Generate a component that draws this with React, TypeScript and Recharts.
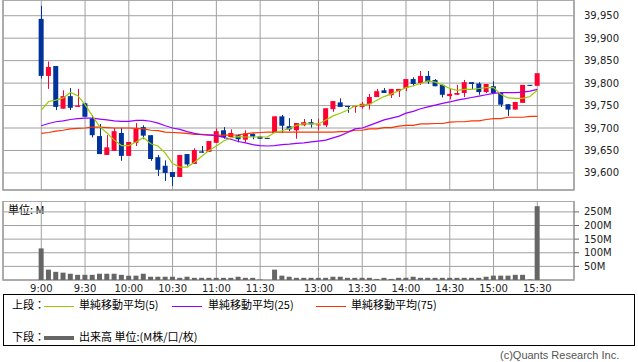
import { ComposedChart, Bar, Line, XAxis, YAxis, CartesianGrid, ReferenceArea } from "recharts";

// x positions are 5-minute slots, 9:00 = slot 0, 15:30 = slot 68
const tickSlots = [0, 6, 12, 18, 24, 30, 38, 44, 50, 56, 62, 68];
const tickLabels = ["9:00", "9:30", "10:00", "10:30", "11:00", "11:30", "13:00", "13:30", "14:00", "14:30", "15:00", "15:30"];
const priceTicks = [39600, 39650, 39700, 39750, 39800, 39850, 39900, 39950];
const volumeTicks = [50, 100, 150, 200, 250];

const opens = [
  39943, 39816, 39838, 39743, 39771, 39747, 39755, 39721, 39682, 39640, 39649, 39689, 39638, 39667, 39702, 39684, 39635,
  39616, 39602, 39591, 39642, 39620, 39648, 39647, 39667, 39695, 39680, 39684, 39674, 39687, 39681, 39678, 39689, 39726,
  39704, 39695, 39706, 39713, 39706, 39706, 39742, 39757, 39749, 39747, 39747, 39753, 39769, 39784, 39773, 39782, 39789,
  39809, 39800, 39816, 39807, 39796, 39771, 39774, 39778, 39802, 39799, 39780, 39793, 39778, 39753, 39741, 39756, 39796,
  39794,
];
const highs = [
  39972, 39848, 39838, 39784, 39789, 39787, 39756, 39729, 39709, 39684, 39700, 39700, 39669, 39711, 39706, 39684, 39640,
  39628, 39602, 39640, 39642, 39655, 39660, 39671, 39699, 39702, 39697, 39686, 39695, 39688, 39681, 39678, 39726, 39729,
  39722, 39711, 39720, 39720, 39720, 39744, 39760, 39766, 39749, 39749, 39758, 39776, 39787, 39789, 39787, 39787, 39809,
  39813, 39827, 39827, 39809, 39797, 39788, 39796, 39807, 39802, 39802, 39798, 39804, 39778, 39753, 39758, 39796, 39796,
  39822,
];
const lows = [
  39810, 39787, 39740, 39743, 39740, 39747, 39725, 39679, 39642, 39640, 39649, 39627, 39638, 39660, 39675, 39627, 39593,
  39582, 39571, 39591, 39616, 39620, 39645, 39647, 39667, 39676, 39680, 39668, 39668, 39675, 39676, 39676, 39689, 39689,
  39693, 39676, 39704, 39701, 39695, 39702, 39736, 39747, 39734, 39734, 39743, 39741, 39769, 39778, 39767, 39769, 39782,
  39793, 39796, 39798, 39793, 39768, 39764, 39774, 39769, 39786, 39774, 39778, 39778, 39747, 39727, 39741, 39756, 39794,
  39794,
];
const closes = [
  39816, 39836, 39747, 39771, 39745, 39750, 39725, 39684, 39642, 39657, 39693, 39638, 39669, 39699, 39683, 39631, 39607,
  39600, 39591, 39640, 39619, 39651, 39645, 39671, 39693, 39680, 39689, 39675, 39688, 39681, 39676, 39676, 39726, 39705,
  39697, 39711, 39713, 39708, 39708, 39744, 39760, 39747, 39747, 39749, 39754, 39769, 39782, 39778, 39787, 39787, 39809,
  39798, 39816, 39802, 39793, 39774, 39776, 39778, 39802, 39798, 39780, 39798, 39778, 39752, 39741, 39758, 39796, 39794,
  39822,
];

// moving averages (they carry over from the previous day)
const ma5 = [
  39740, 39759, 39762, 39767, 39779, 39772, 39752, 39727, 39703, 39689, 39673, 39661, 39661, 39669, 39679, 39665, 39660,
  39644, 39621, 39613, 39613, 39624, 39637, 39650, 39660, 39671, 39678, 39681, 39680, 39680, 39680, 39680, 39690, 39694,
  39699, 39706, 39709, 39709, 39709, 39718, 39727, 39733, 39740, 39749, 39751, 39753, 39762, 39770, 39776, 39783, 39790,
  39794, 39799, 39805, 39802, 39796, 39788, 39784, 39786, 39786, 39788, 39790, 39790, 39775, 39767, 39766, 39766, 39770,
  39784,
];
const ma25 = [
  39705, 39710, 39714, 39716, 39719, 39721, 39722, 39722, 39720, 39718, 39716, 39715, 39715, 39717, 39717, 39715, 39711,
  39705, 39700, 39697, 39692, 39688, 39685, 39684, 39683, 39679, 39675, 39670, 39667, 39663, 39661, 39660, 39661, 39663,
  39664, 39666, 39667, 39669, 39671, 39673, 39678, 39683, 39690, 39698, 39700, 39706, 39712, 39718, 39722, 39726, 39733,
  39737, 39743, 39747, 39751, 39755, 39758, 39762, 39765, 39768, 39771, 39774, 39777, 39779, 39779, 39779, 39780, 39782,
  39786,
];
const ma75 = [
  39688, 39690, 39693, 39695, 39698, 39699, 39700, 39702, 39702, 39701, 39700, 39700, 39700, 39699, 39698, 39695, 39694,
  39691, 39690, 39689, 39688, 39686, 39686, 39685, 39684, 39684, 39684, 39685, 39687, 39689, 39690, 39691, 39691, 39691,
  39691, 39691, 39691, 39691, 39691, 39691, 39691, 39692, 39692, 39695, 39695, 39698, 39698, 39701, 39701, 39704, 39706,
  39706, 39709, 39709, 39710, 39710, 39713, 39714, 39714, 39716, 39716, 39719, 39721, 39721, 39724, 39724, 39724, 39726,
  39726,
];
// volume in millions
const volumes = [
  116, 38, 30, 27, 23, 19, 19, 19, 23, 23, 23, 19, 16, 16, 23, 12, 12, 12, 12, 8, 12, 8, 8, 8, 8, 8, 8, 12, 8, 8, 2, 0,
  38, 16, 12, 8, 8, 8, 8, 8, 12, 12, 8, 8, 8, 8, 4, 8, 4, 8, 8, 12, 8, 8, 8, 8, 8, 8, 8, 8, 8, 12, 16, 16, 16, 19, 19, 2,
  271,
];

const UP = "#ff0033";
const DOWN = "#003399";
const GRID = "#a0a0a0";
const X_DOMAIN: [number, number] = [-5.25, 73.03];
const PRICE_DOMAIN: [number, number] = [39562, 39985];
const VOL_DOMAIN: [number, number] = [0, 290];
const LATIN = "'DejaVu Sans', sans-serif";
const CJK = "'Noto Sans CJK JP', sans-serif";

const chartData = opens.map((open, i) => ({
  slot: i,
  open,
  high: highs[i],
  low: lows[i],
  close: closes[i],
  range: [lows[i], highs[i]],
  ma5: ma5[i],
  ma25: ma25[i],
  ma75: ma75[i],
  volume: volumes[i],
}));

function Candle(props: any) {
  const { x, y, width, height, payload } = props;
  if (!payload) return null;
  const { open, close, high, low } = payload;
  const top = Math.min(y, y + height);
  const h = Math.abs(height);
  const perUnit = high === low ? 0 : h / (high - low);
  const color = close >= open ? UP : DOWN;
  const bodyTop = top + (high - Math.max(open, close)) * perUnit;
  const bodyH = Math.max(1, Math.abs(close - open) * perUnit);
  const cx = Math.round(x + width / 2) + 0.5;
  return (
    <g>
      <line x1={cx} x2={cx} y1={top} y2={top + h} stroke={color} strokeWidth={1} />
      <rect x={x} y={bodyTop} width={width} height={bodyH} fill={color} />
    </g>
  );
}

const tickStyle = { fontSize: 10, fill: "#222", fontFamily: LATIN };

function LegendLine({ color, thick = 1 }: { color: string; thick?: number }) {
  return <span style={{ display: "inline-block", width: 30, height: thick, background: color, verticalAlign: "middle" }} />;
}

export default function App() {
  return (
    <div style={{ position: "absolute", left: 0, top: 0, width: 638, height: 362, background: "#fff", fontFamily: CJK, overflow: "hidden" }}>
      {/* price chart */}
      <div style={{ position: "absolute", left: 0, top: 0 }}>
        <ComposedChart width={638} height={192} data={chartData} margin={{ top: 0, right: 0, bottom: 2, left: 3 }}>
          <CartesianGrid stroke={GRID} strokeWidth={1} />
          <XAxis type="number" dataKey="slot" domain={X_DOMAIN} ticks={tickSlots} allowDataOverflow hide />
          <YAxis
            orientation="right"
            width={64}
            domain={PRICE_DOMAIN}
            ticks={priceTicks}
            interval={0}
            allowDataOverflow
            axisLine={false}
            tickLine={false}
            tickSize={6}
            tickMargin={4}
            tick={{ ...tickStyle, textAnchor: "start" }}
            tickFormatter={(v: number) => v.toLocaleString("en-US")}
          />
          <ReferenceArea x1={X_DOMAIN[0]} x2={X_DOMAIN[1]} y1={PRICE_DOMAIN[0]} y2={PRICE_DOMAIN[1]} fill="none" stroke={GRID} strokeWidth={1.5} />
          <Bar dataKey="range" barSize={5} shape={<Candle />} isAnimationActive={false} />
          <Line type="linear" dataKey="ma75" stroke="#ff3300" strokeWidth={1.2} dot={false} isAnimationActive={false} />
          <Line type="linear" dataKey="ma25" stroke="#9900ff" strokeWidth={1.2} dot={false} isAnimationActive={false} />
          <Line type="linear" dataKey="ma5" stroke="#99cc00" strokeWidth={1.2} dot={false} isAnimationActive={false} />
        </ComposedChart>
      </div>

      {/* volume chart */}
      <div style={{ position: "absolute", left: 8, top: 203, fontSize: 11, lineHeight: "13px", color: "#000" }}>単位: M</div>
      <div style={{ position: "absolute", left: 0, top: 201 }}>
        <ComposedChart width={638} height={99} data={chartData} margin={{ top: 0, right: 0, bottom: 0, left: 3 }}>
          <CartesianGrid stroke={GRID} strokeWidth={1} />
          <XAxis
            type="number"
            dataKey="slot"
            domain={X_DOMAIN}
            ticks={tickSlots}
            interval={0}
            allowDataOverflow
            height={20}
            axisLine={false}
            tickLine={false}
            tickSize={2}
            tickMargin={3}
            tick={tickStyle}
            tickFormatter={(v: number) => tickLabels[tickSlots.indexOf(v)] ?? ""}
          />
          <YAxis
            orientation="right"
            width={64}
            domain={VOL_DOMAIN}
            ticks={volumeTicks}
            interval={0}
            allowDataOverflow
            axisLine={false}
            tickLine={{ stroke: "#666" }}
            tickSize={5}
            tickMargin={5}
            tick={{ ...tickStyle, textAnchor: "start" }}
            tickFormatter={(v: number) => `${v}M`}
          />
          <ReferenceArea x1={X_DOMAIN[0]} x2={X_DOMAIN[1]} y1={VOL_DOMAIN[0]} y2={VOL_DOMAIN[1]} fill="none" stroke={GRID} strokeWidth={1.5} />
          <Bar dataKey="volume" barSize={5} fill="#666666" isAnimationActive={false} />
        </ComposedChart>
      </div>

      {/* legend */}
      <div style={{ position: "absolute", left: 3, top: 294, width: 630, height: 50, border: "1px solid #000", fontSize: 11, color: "#000" }}>
        <div style={{ position: "absolute", left: 8, top: 2, height: 14, lineHeight: "14px", whiteSpace: "nowrap" }}>
          <span>上段：</span>
          <span style={{ position: "absolute", left: 32 }}><LegendLine color="#99cc00" /></span>
          <span style={{ position: "absolute", left: 67 }}>単純移動平均(5)</span>
          <span style={{ position: "absolute", left: 160 }}><LegendLine color="#9900ff" /></span>
          <span style={{ position: "absolute", left: 196 }}>単純移動平均(25)</span>
          <span style={{ position: "absolute", left: 304 }}><LegendLine color="#ff3300" /></span>
          <span style={{ position: "absolute", left: 339 }}>単純移動平均(75)</span>
        </div>
        <div style={{ position: "absolute", left: 8, top: 34, height: 14, lineHeight: "14px", whiteSpace: "nowrap" }}>
          <span>下段：</span>
          <span style={{ position: "absolute", left: 32 }}><LegendLine color="#666666" thick={4} /></span>
          <span style={{ position: "absolute", left: 67 }}>出来高 単位:(M株/口/枚)</span>
        </div>
      </div>

      <div style={{ position: "absolute", left: 500, top: 350, fontSize: 11, lineHeight: "11px", color: "#555", fontFamily: "'Liberation Sans', Arial, sans-serif", whiteSpace: "nowrap" }}>
        (c)Quants Research Inc.
      </div>
    </div>
  );
}
